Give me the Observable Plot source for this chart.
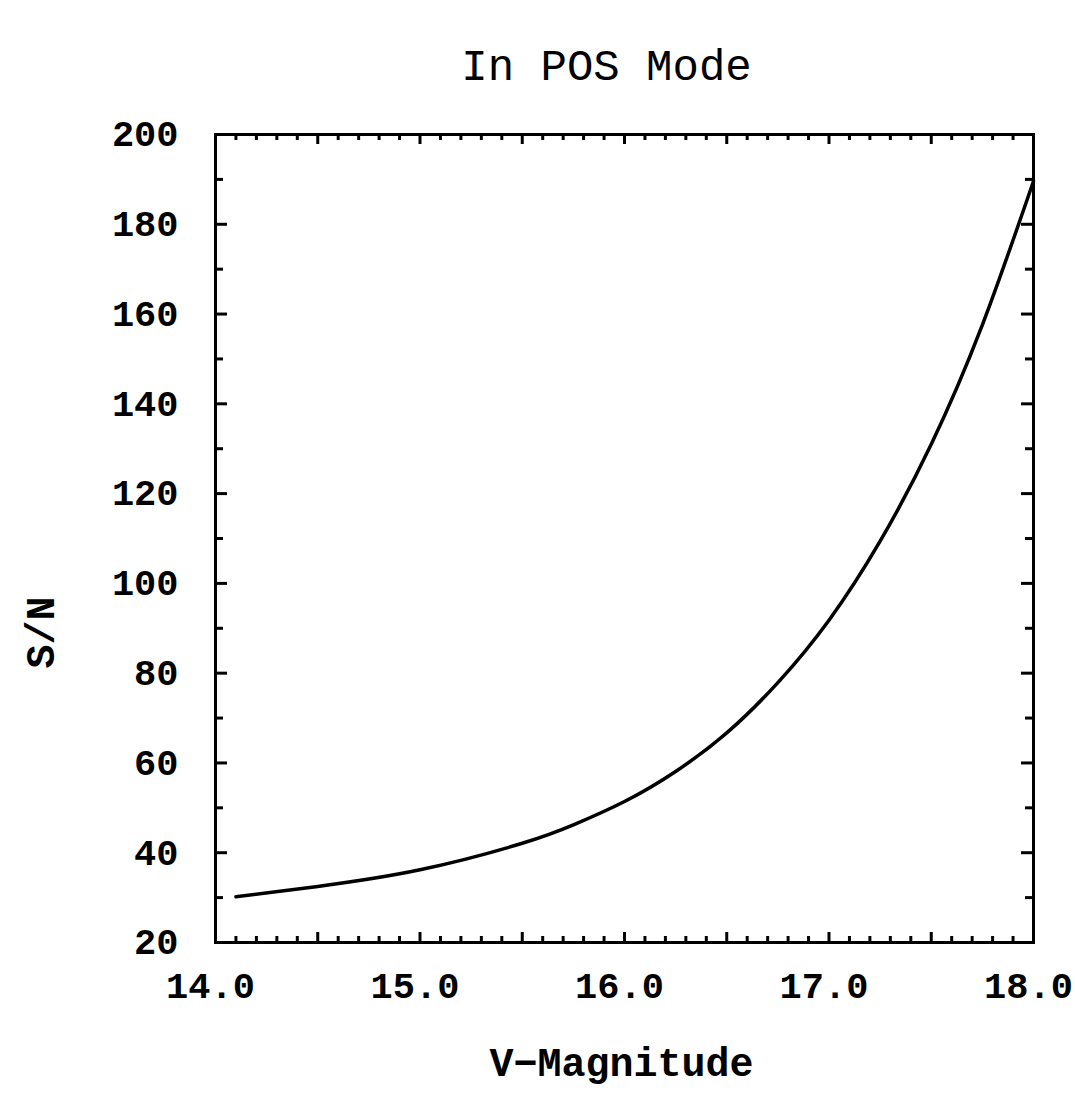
<!DOCTYPE html>
<html><head><meta charset="utf-8">
<script src="https://cdn.jsdelivr.net/npm/d3@7"></script>
<script src="https://cdn.jsdelivr.net/npm/@observablehq/plot@0.6"></script>
<style>body{margin:0;background:#fff} svg{font-family:"Liberation Mono",monospace}</style>
</head><body><div id="chart"></div>
<script>
// V-magnitude vs S/N
const magnitude = [14.1, 14.5, 15.0, 15.5, 15.75, 16.0, 16.25, 16.5, 16.75, 17.0, 17.25, 17.5, 17.75, 18.0];
const snr = [30.2, 32.5, 36.2, 42.1, 46.2, 51.4, 58.1, 66.7, 77.9, 91.8, 109.4, 131.0, 157.6, 189.6];

const xTicks = [14, 15, 16, 17, 18];
const xTickLabels = ["14.0", "15.0", "16.0", "17.0", "18.0"];
const yTicks = [20, 40, 60, 80, 100, 120, 140, 160, 180, 200];
const yTickLabels = ["20", "40", "60", "80", "100", "120", "140", "160", "180", "200"];
const xMinor = d3.range(141, 180).map(d => d / 10).filter(d => Math.abs(d * 2 - Math.round(d * 2)) > 1e-6);
const xMid = d3.range(29, 37).map(d => d / 2);
const yMinor = d3.range(30, 200, 20);
const yMajor = d3.range(40, 200, 20);

const W = 1075, H = 1096, mL = 215, mR = 42, mT = 134, mB = 154;
const fW = W - mL - mR, fH = H - mT - mB;
const data = magnitude.map((m, i) => ({m, s: snr[i]}));
const tw = 3;

const chart = Plot.plot({
  width: W, height: H,
  marginLeft: mL, marginRight: mR, marginTop: mT, marginBottom: mB,
  x: {domain: [14, 18], axis: null},
  y: {domain: [20, 200], axis: null},
  marks: [
    // bottom & top ticks
    Plot.tickX(xMinor, {x: d => d, insetTop: fH - 6, stroke: "black", strokeWidth: tw}),
    Plot.tickX(xMid, {x: d => d, insetTop: fH - 10, stroke: "black", strokeWidth: tw}),
    Plot.tickX(xMinor, {x: d => d, insetBottom: fH - 6, stroke: "black", strokeWidth: tw}),
    Plot.tickX(xMid, {x: d => d, insetBottom: fH - 10, stroke: "black", strokeWidth: tw}),
    // left & right ticks
    Plot.tickY(yMinor, {y: d => d, insetRight: fW - 8, stroke: "black", strokeWidth: tw}),
    Plot.tickY(yMajor, {y: d => d, insetRight: fW - 12, stroke: "black", strokeWidth: tw}),
    Plot.tickY(yMinor, {y: d => d, insetLeft: fW - 8, stroke: "black", strokeWidth: tw}),
    Plot.tickY(yMajor, {y: d => d, insetLeft: fW - 12, stroke: "black", strokeWidth: tw}),
    Plot.frame({stroke: "black", strokeWidth: 3}),
    Plot.line(data, {x: "m", y: "s", curve: "natural", stroke: "black", strokeWidth: 3.5}),
    // tick labels
    Plot.text(xTicks, {x: d => d, text: (d, i) => xTickLabels[i], frameAnchor: "bottom", dy: 44, dx: -5,
      lineAnchor: "middle", textAnchor: "middle",
      fontSize: 37, fontWeight: "bold", fill: "black", letterSpacing: 0.5}),
    Plot.text(yTicks, {y: d => d, text: (d, i) => yTickLabels[i], frameAnchor: "left", dx: -37,
      lineAnchor: "middle", textAnchor: "end", fontSize: 37, fontWeight: "bold", fill: "black", letterSpacing: 2}),
    // axis labels and title
    Plot.text(["V\u2212Magnitude"], {text: d => d, frameAnchor: "bottom", dy: 121, dx: -3,
      lineAnchor: "middle", textAnchor: "middle",
      fontSize: 40, fontWeight: "bold", fill: "black", letterSpacing: 3}),
    Plot.text(["S/N"], {text: d => d, frameAnchor: "left", dx: -174, dy: 94, rotate: -90,
      lineAnchor: "middle", textAnchor: "middle",
      fontSize: 40, fontWeight: "bold", fill: "black", letterSpacing: 3}),
    Plot.text(["In POS Mode"], {text: d => d, frameAnchor: "top", dy: -69, dx: -18,
      lineAnchor: "middle", textAnchor: "middle",
      fontSize: 44, fill: "black", letterSpacing: 3.5})
  ]
});
document.getElementById("chart").appendChild(chart);
</script>
</body></html>
